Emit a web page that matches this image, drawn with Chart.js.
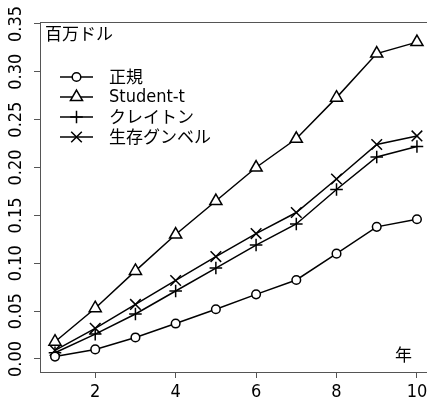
<!DOCTYPE html>
<html>
<head>
<meta charset="utf-8">
<script src="https://cdn.jsdelivr.net/npm/chart.js@4/dist/chart.umd.min.js"></script>
<style>
  html, body { margin: 0; padding: 0; background: #fff; overflow: hidden; }
  canvas { display: block; }
</style>
</head>
<body>
<canvas id="c" width="427" height="400"></canvas>
<script>
// ---- data ----
const years = [1, 2, 3, 4, 5, 6, 7, 8, 9, 10];
const normalVals   = [0.0025, 0.010, 0.0225, 0.037, 0.052, 0.0675, 0.0825, 0.110, 0.138, 0.146];
const studentVals  = [0.018, 0.053, 0.092, 0.130, 0.165, 0.200, 0.230, 0.273, 0.319, 0.331];
const claytonVals  = [0.0065, 0.026, 0.047, 0.071, 0.095, 0.119, 0.141, 0.177, 0.211, 0.222];
const gumbelVals   = [0.009, 0.032, 0.057, 0.082, 0.107, 0.131, 0.153, 0.188, 0.224, 0.233];
const seriesLabels = ['正規', 'Student-t', 'クレイトン', '生存グンベル'];
const xTicks = [2, 4, 6, 8, 10];
const yTicks = [0, 0.05, 0.10, 0.15, 0.20, 0.25, 0.30, 0.35];
const yTickLabels = ['0.00', '0.05', '0.10', '0.15', '0.20', '0.25', '0.30', '0.35'];
const yUnitLabel = '百万ドル';
const xUnitLabel = '年';

// ---- styling ----
const narrowFont = "'DejaVu Sans Condensed', 'Liberation Sans Narrow', 'Noto Sans CJK JP', sans-serif";
const cjkFont = "'Noto Sans CJK JP', 'DejaVu Sans', sans-serif";
const axisColor = '#555';

const styles = [
  { pointStyle: 'circle',   radius: 4.3, bg: '#fff' },
  { pointStyle: 'triangle', radius: 7,   bg: '#fff' },
  { pointStyle: 'cross',    radius: 6.3, bg: 'rgba(0,0,0,0)' },
  { pointStyle: 'crossRot', radius: 7.5, bg: 'rgba(0,0,0,0)' }
];
const allVals = [normalVals, studentVals, claytonVals, gumbelVals];

const datasets = allVals.map((vals, i) => ({
  label: seriesLabels[i],
  data: years.map((x, k) => ({ x: x, y: vals[k] })),
  borderColor: '#000',
  borderWidth: 1.5,
  backgroundColor: styles[i].bg,
  pointStyle: styles[i].pointStyle,
  pointRadius: styles[i].radius,
  pointBorderColor: '#000',
  pointBackgroundColor: styles[i].bg,
  pointBorderWidth: 1.5,
  pointHoverRadius: styles[i].radius,
  fill: false,
  tension: 0
}));

const annotations = {
  id: 'annotations',
  afterDraw(chart) {
    const ctx = chart.ctx;
    const area = chart.chartArea;
    ctx.save();
    ctx.fillStyle = '#000';
    ctx.font = "17px " + cjkFont;
    ctx.textBaseline = 'middle';
    ctx.textAlign = 'left';
    ctx.fillText(yUnitLabel, area.left + 5, area.top + 12);
    ctx.textAlign = 'center';
    ctx.fillText(xUnitLabel, 403.5, 355);
    // legend
    const rowY0 = 77, rowH = 20;
    chart.data.datasets.forEach((ds, i) => {
      const y = rowY0 + i * rowH;
      ctx.strokeStyle = '#000';
      ctx.lineWidth = 1.5;
      ctx.beginPath();
      ctx.moveTo(60, y);
      ctx.lineTo(93, y);
      ctx.stroke();
      ctx.fillStyle = ds.pointBackgroundColor;
      ctx.strokeStyle = '#000';
      Chart.helpers.drawPoint(ctx, { pointStyle: ds.pointStyle, radius: ds.pointRadius, rotation: 0, borderWidth: 1.5 }, 76.5, y);
      ctx.fillStyle = '#000';
      ctx.textAlign = 'left';
      ctx.textBaseline = 'middle';
      const ascii = /^[\x00-\x7f]+$/.test(ds.label);
      ctx.font = ascii ? ("18px " + narrowFont) : ("17px " + cjkFont);
      ctx.fillText(ds.label, 109, y);
    });
    ctx.restore();
  }
};

function noPad(scale) {
  scale.paddingLeft = 0; scale.paddingRight = 0;
  scale.paddingTop = 0; scale.paddingBottom = 0;
}

new Chart(document.getElementById('c'), {
  type: 'line',
  data: { datasets: datasets },
  options: {
    responsive: false,
    animation: false,
    events: [],
    layout: { autoPadding: false, padding: { top: 22, right: 0, left: 0, bottom: 0 } },
    plugins: { legend: { display: false }, tooltip: { enabled: false } },
    scales: {
      x: {
        type: 'linear',
        position: 'bottom',
        min: 0.627,
        max: 10.25,
        afterBuildTicks(scale) { scale.ticks = xTicks.map(v => ({ value: v })); },
        afterFit(scale) { scale.height = 28; noPad(scale); },
        ticks: {
          color: '#000',
          font: { family: narrowFont, size: 18 },
          padding: 4,
          maxRotation: 0,
          autoSkip: false,
          callback: (v) => String(v)
        },
        grid: { display: true, drawOnChartArea: false, drawTicks: true, tickLength: 6, color: axisColor, lineWidth: 1 },
        border: { display: true, color: axisColor, width: 1 }
      },
      xTop: {
        type: 'linear',
        position: 'top',
        min: 0.627,
        max: 10.25,
        afterFit(scale) { scale.height = 0; noPad(scale); },
        ticks: { display: false },
        grid: { display: false, drawTicks: false },
        border: { display: true, color: axisColor, width: 1 }
      },
      y: {
        type: 'linear',
        position: 'left',
        min: -0.0136,
        max: 0.352,
        afterBuildTicks(scale) { scale.ticks = yTicks.map(v => ({ value: v })); },
        afterFit(scale) { scale.width = 40; noPad(scale); },
        ticks: {
          color: '#000',
          font: { family: narrowFont, size: 18 },
          minRotation: 90,
          maxRotation: 90,
          crossAlign: 'center',
          padding: 0,
          autoSkip: false,
          callback: (v, i) => yTickLabels[i]
        },
        grid: { display: true, drawOnChartArea: false, drawTicks: true, tickLength: 6, color: axisColor, lineWidth: 1 },
        border: { display: true, color: axisColor, width: 1 }
      }
    }
  },
  plugins: [annotations]
});
</script>
</body>
</html>
